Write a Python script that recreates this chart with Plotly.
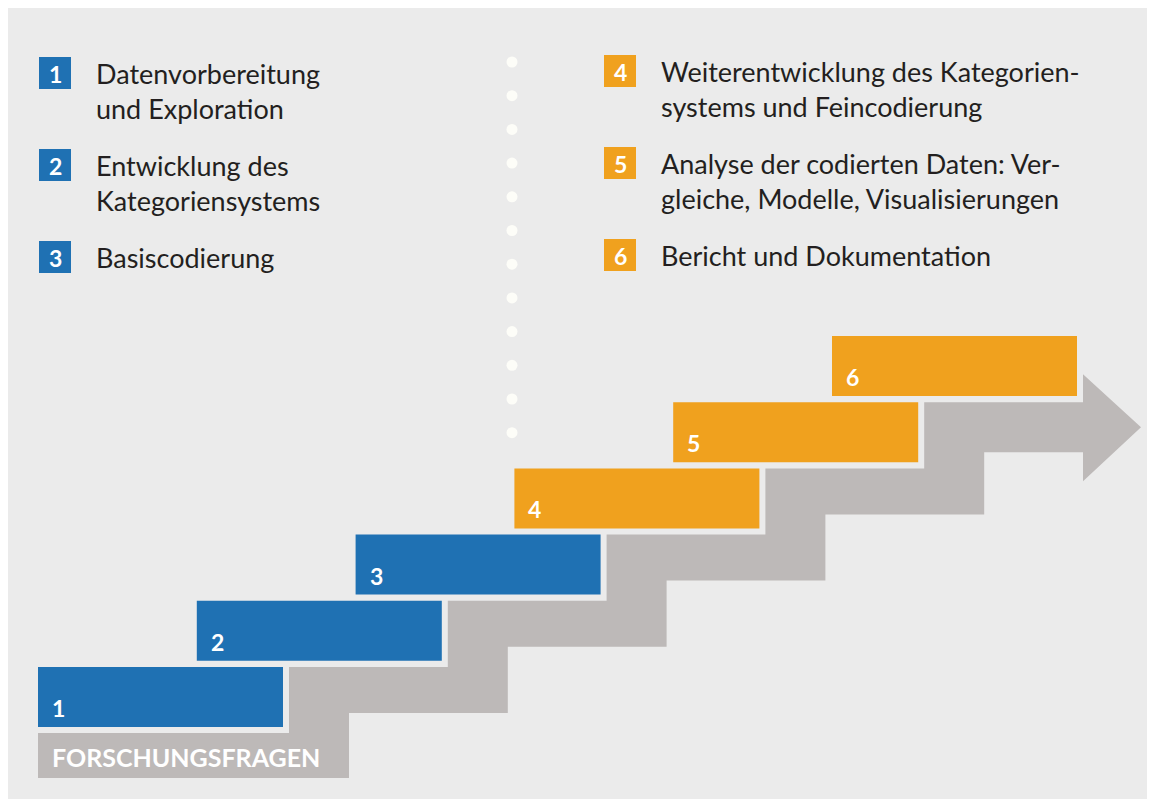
import plotly.graph_objects as go

# ---------------- data ----------------
step_numbers = [1, 2, 3, 4, 5, 6]
step_titles = [
    ["Datenvorbereitung", "und Exploration"],
    ["Entwicklung des", "Kategoriensystems"],
    ["Basiscodierung"],
    ["Weiterentwicklung des Kategorien-", "systems und Feincodierung"],
    ["Analyse der codierten Daten: Ver-", "gleiche, Modelle, Visualisierungen"],
    ["Bericht und Dokumentation"],
]
step_phase = ["A", "A", "A", "B", "B", "B"]
start_label = "FORSCHUNGSFRAGEN"

# ---------------- styles / layout constants ----------------
W, H = 1155, 807
PAGE_MARGIN = 8             # browser body margin around the plot div
BG = "#ebebeb"
PHASE_COLOR = {"A": "#1f71b3", "B": "#f0a11e"}
GRAY = "#bdb9b8"
TEXT = "#231f20"
FONT = "Lato"

X0, Y0 = 38.0, 667.0        # top-left of first box
DX, DY = 158.8, 66.2        # step offsets
BW, BH = 245.0, 60.0        # box size
GAP, RISER = 6.0, 60.0      # gap between box and gray path, riser width
BAND, SHAFT = 46.0, 50.0    # gray band thickness, arrow shaft thickness
HEAD_UP, HEAD_DN, HEAD_LEN = 28.0, 79.0, 58.0
BASE_H = 45.0

LEG_X = {"A": 39.0, "B": 604.0}
LEG_TXT_DX = 56.0
LEG_Y0, LEG_DY = 73.0, 92.0
BADGE = 32.0
LINE_H = 35.0

DOT_X, DOT_Y0, DOT_DY, N_DOTS = 512.0, 62.0, 33.7, 12

fig = go.Figure()
shapes = []
annotations = []

# panel
shapes.append(dict(type="rect", xref="x", yref="y", x0=7, y0=6, x1=W + 2, y1=H + 2,
                   fillcolor=BG, line=dict(width=0), layer="below"))

def box_x0(k):
    return X0 + (k - 1) * DX

def box_x1(k):
    return box_x0(k) + BW

def box_top(k):
    return Y0 - (k - 1) * DY

n = len(step_numbers)

# gray staircase arrow polygon
px, py = [], []
base_top = box_top(1) + BH + GAP
px += [X0, box_x1(1) + GAP]
py += [base_top, base_top]
for k in range(1, n):
    px += [box_x1(k) + GAP, box_x1(k + 1) + GAP]
    py += [box_top(k), box_top(k)]
# arrow head
hb = box_x1(n) + GAP
ytop = box_top(n - 1)
px += [hb, hb + HEAD_LEN, hb, hb]
py += [ytop - HEAD_UP, ytop + SHAFT / 2, ytop + HEAD_DN, ytop + SHAFT]
# bottom edge going back
px += [box_x1(n - 1) + GAP + RISER]
py += [ytop + SHAFT]
for k in range(n - 1, 1, -1):
    px += [box_x1(k) + GAP + RISER, box_x1(k - 1) + GAP + RISER]
    py += [box_top(k - 1) + BAND, box_top(k - 1) + BAND]
px += [box_x1(1) + GAP + RISER, box_x1(1) + GAP + RISER, X0]
py += [base_top + BASE_H, base_top + BASE_H, base_top + BASE_H]
px.append(px[0]); py.append(py[0])
fig.add_trace(go.Scatter(x=px, y=py, mode="lines", fill="toself",
                         fillcolor=GRAY, line=dict(width=0, color=GRAY),
                         hoverinfo="skip", showlegend=False))

annotations.append(dict(x=X0 + 12, y=base_top + BASE_H / 2 + 1, xref="x", yref="y",
                        text="<b>" + start_label + "</b>", showarrow=False,
                        xanchor="left", yanchor="middle",
                        font=dict(family=FONT, size=25, color="white")))

# step boxes
for k, ph in zip(step_numbers, step_phase):
    shapes.append(dict(type="rect", xref="x", yref="y",
                       x0=box_x0(k), x1=box_x1(k), y0=box_top(k), y1=box_top(k) + BH,
                       fillcolor=PHASE_COLOR[ph], line=dict(width=0)))
    annotations.append(dict(x=box_x0(k) + 12, y=box_top(k) + 41, xref="x", yref="y",
                            text="<b>%d</b>" % k, showarrow=False,
                            xanchor="left", yanchor="middle",
                            font=dict(family=FONT, size=23, color="white")))

# dotted divider
fig.add_trace(go.Scatter(x=[DOT_X] * N_DOTS,
                         y=[DOT_Y0 + i * DOT_DY for i in range(N_DOTS)],
                         mode="markers", marker=dict(size=11, color="#fdfdf8"),
                         hoverinfo="skip", showlegend=False))

# legend list
for idx, (k, ph, lines) in enumerate(zip(step_numbers, step_phase, step_titles)):
    row = idx % 3
    bx = LEG_X[ph]
    by = LEG_Y0 + row * LEG_DY - (2 if ph == "B" else 0)
    shapes.append(dict(type="rect", xref="x", yref="y",
                       x0=bx, x1=bx + BADGE, y0=by - BADGE / 2, y1=by + BADGE / 2,
                       fillcolor=PHASE_COLOR[ph], line=dict(width=0)))
    annotations.append(dict(x=bx + BADGE / 2, y=by + 1, xref="x", yref="y",
                            text="<b>%d</b>" % k, showarrow=False,
                            xanchor="center", yanchor="middle",
                            font=dict(family=FONT, size=23, color="white")))
    for j, line in enumerate(lines):
        annotations.append(dict(x=bx + LEG_TXT_DX - 1, y=by + j * LINE_H, xref="x", yref="y",
                                text=line, showarrow=False,
                                xanchor="left", yanchor="middle",
                                font=dict(family=FONT, size=27, color=TEXT)))

# the plot div sits inside the page's 8px body margin; keep the whole page
# within the window (no scrollbars) and map data units 1:1 to page pixels
fig_w = W - PAGE_MARGIN
fig_h = H - 2 * PAGE_MARGIN
fig.update_layout(
    width=fig_w, height=fig_h,
    margin=dict(l=0, r=0, t=0, b=0),
    paper_bgcolor=BG, plot_bgcolor=BG,
    xaxis=dict(range=[PAGE_MARGIN, PAGE_MARGIN + fig_w], visible=False, fixedrange=True),
    yaxis=dict(range=[PAGE_MARGIN + fig_h, PAGE_MARGIN], visible=False, fixedrange=True),
    shapes=shapes, annotations=annotations,
    showlegend=False,
)
fig.write_html("out.html")
